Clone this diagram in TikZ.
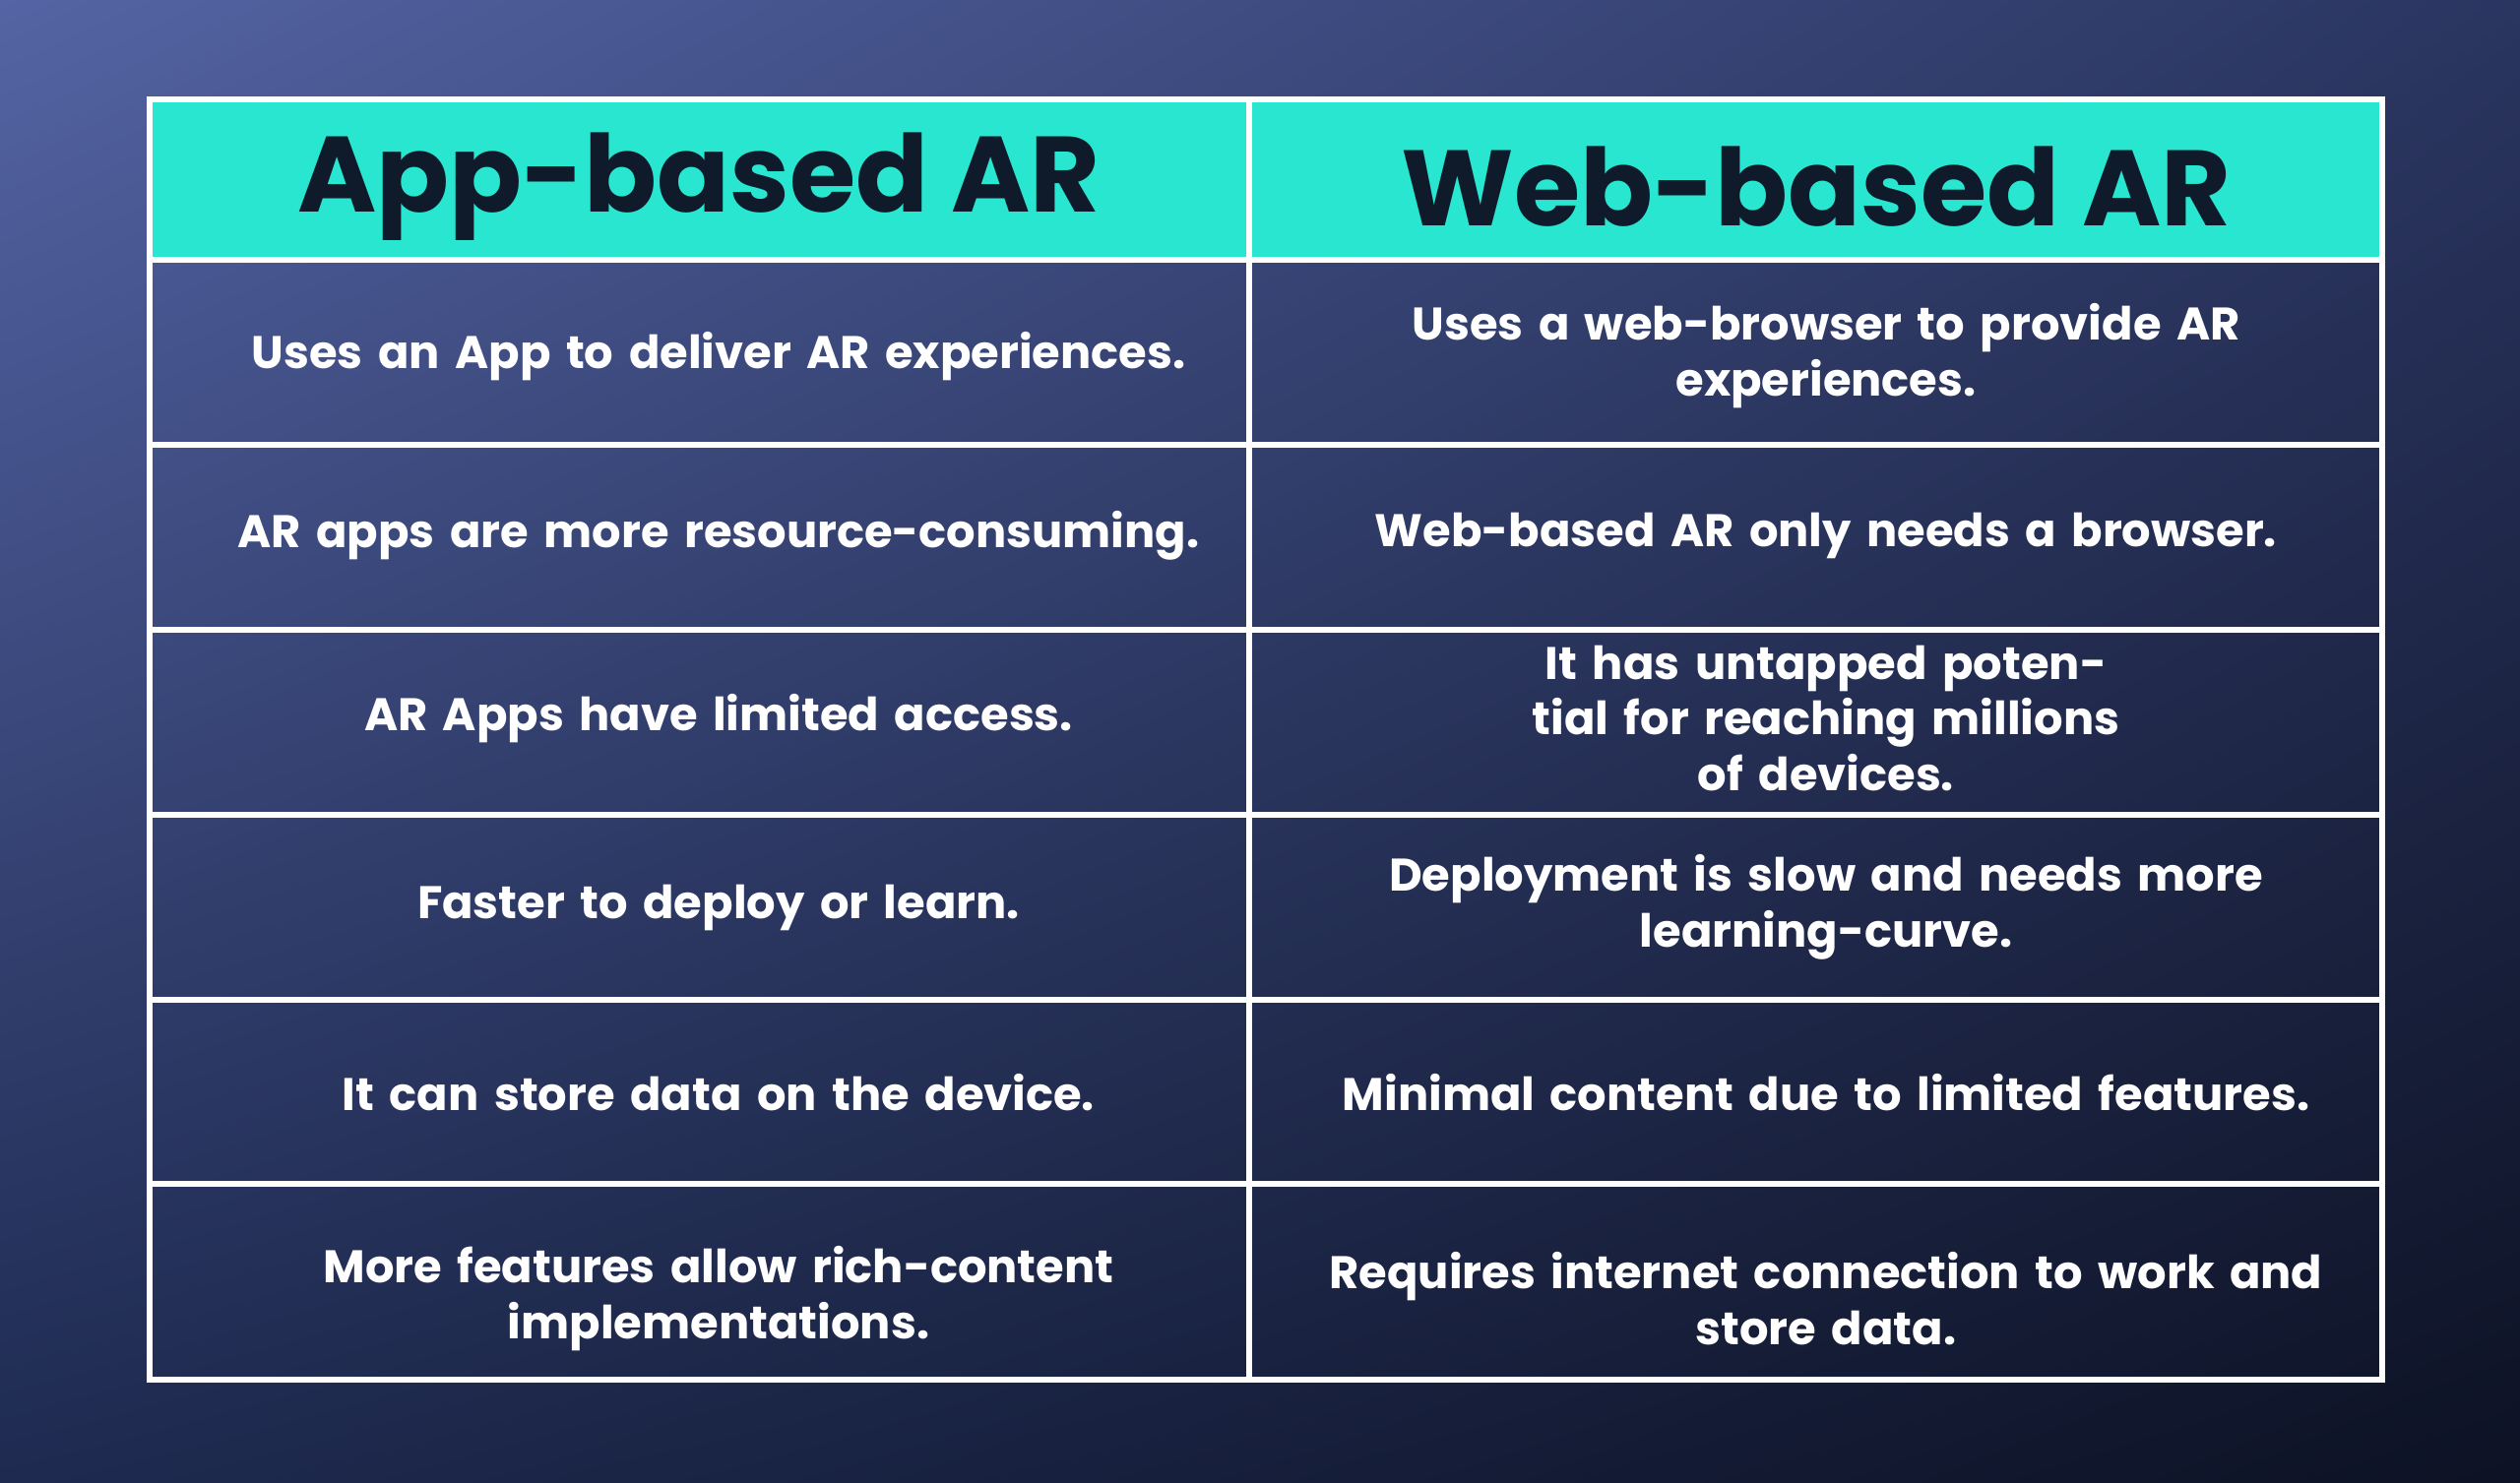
\documentclass[tikz,border=0pt]{standalone}
\usepackage{fontspec}
\setmainfont{Poppins}
\usetikzlibrary{shadings}
\definecolor{bgtl}{HTML}{5464A4}
\definecolor{bgtr}{HTML}{2A3560}
\definecolor{bgbl}{HTML}{1E2A50}
\definecolor{bgbr}{HTML}{0D1224}
\definecolor{headcol}{HTML}{28E6D0}
\definecolor{headtxt}{HTML}{0F1A2A}
\tikzstyle{grid}=[draw=white,line width=1.9pt]
\tikzstyle{headtext}=[font=\fontsize{31}{36}\selectfont\bfseries,text=headtxt]
\tikzstyle{celltext}=[font=\fontsize{13.2}{16.2}\selectfont\bfseries,text=white,align=center,text width=10.6cm]
\begin{document}
\begin{tikzpicture}
	\useasboundingbox (0,0) rectangle (25.6,-15.06);
	\shade[upper left=bgtl,upper right=bgtr,lower left=bgbl,lower right=bgbr] (0,0) rectangle (25.6,-15.06);
	% header
	\fill[headcol] (1.52,-1.01) rectangle (24.2,-2.64);
	\node[headtext] (hA) at (7.10,-1.90) {App-based AR};
	\node[headtext] (hW) at (18.45,-1.90) {Web-based AR};
	% rows
	\foreach \y/\a/\w [count=\i] in {
		3.62/{Uses an App to deliver AR experiences.}/{Uses a web-browser to provide AR\\experiences.},
		5.44/{AR apps are more resource-consuming.}/{Web-based AR only needs a browser.},
		7.30/{AR Apps have limited access.}/{It has untapped potential for reaching millions\\of devices.},
		9.22/{Faster to deploy or learn.}/{Deployment is slow and needs more\\learning-curve.},
		11.10/{It can store data on the device.}/{Minimal content due to limited features.},
		13.20/{More features allow rich-content\\implementations.}/{Requires internet connection to work and\\store data.}}
	{
		\node[celltext] (a\i) at (7.30,-\y) {\a};
		\node[celltext,text width=11cm] (w\i) at (18.55,-\y) {\w};
	}
	% grid lines
	\foreach \y in {2.64,4.52,6.40,8.28,10.16,12.03}
		\draw[grid] (1.52,-\y) -- (24.2,-\y);
	\draw[grid] (12.69,-1.01) -- (12.69,-14.02);
	\draw[grid] (1.52,-1.01) rectangle (24.2,-14.02);
\end{tikzpicture}
\end{document}
